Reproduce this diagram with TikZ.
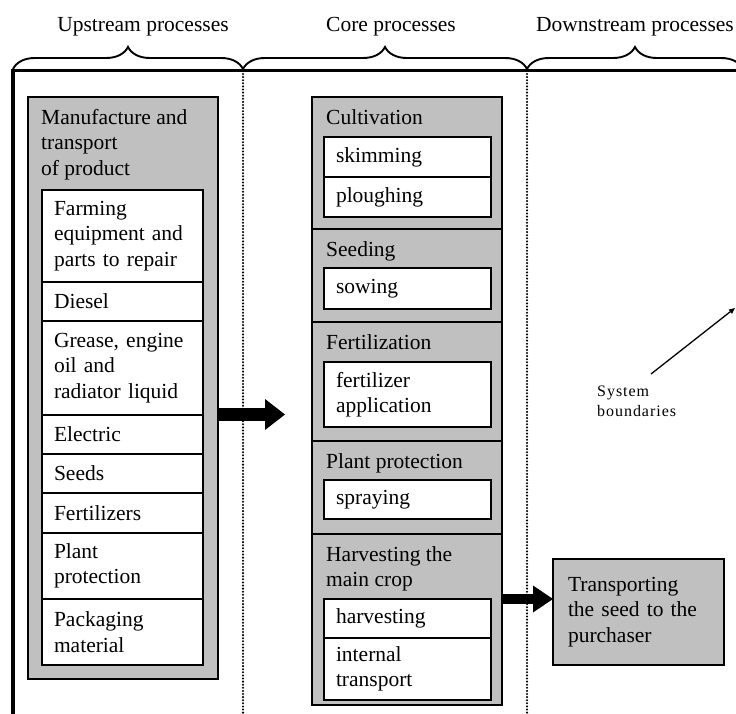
\documentclass[tikz,border=0pt]{standalone}
\usepackage{fontspec}
\setmainfont{Liberation Serif}
\usepackage{tikz}
\usetikzlibrary{positioning, arrows.meta, decorations.pathreplacing}
\definecolor{cBox}{HTML}{C0C0C0}
\newcommand{\boxfont}{\fontsize{21.5pt}{25.5pt}\selectfont}
\newcommand{\notefont}{\fontsize{16pt}{20pt}\selectfont\addfontfeatures{LetterSpace=6}}

\begin{document}
\begin{tikzpicture}[x=1pt, y=-1pt, font=\boxfont,
    frame/.style={line width=3.5pt},
    boundary/.style={line width=2.3pt, line cap=round, dash pattern=on 0pt off 3.1pt},
    brace/.style={decorate, decoration={brace, amplitude=22pt}, line width=1.9pt},
    grp/.style={draw, fill=cBox, line width=1.7pt, anchor=north west, inner sep=0pt, outer sep=0pt, minimum width=190pt},
    grplbl/.style={anchor=north west, inner sep=0pt, align=left},
    item/.style={draw, fill=white, line width=1.7pt, anchor=north west, align=left, inner xsep=12pt, inner ysep=2pt, outer sep=0pt},
    lefti/.style={item, text width=137pt},
    corei/.style={item, text width=143pt},
    bigarrow/.style 2 args={line width=#1, -{Triangle[length=20pt, width=#2, line width=0pt]}},
    pointer/.style={line width=1.3pt, -{Triangle[length=6pt, width=5pt]}}]
  \useasboundingbox (0,0) rectangle (736,714);
  \clip (0,0) rectangle (736,714);

  \draw[frame] (13,730) -- (13,70.5) -- (760,70.5);
  \draw[boundary] (243,74) -- (243,714);
  \draw[boundary] (527,74) -- (527,714);
  \draw[brace] (13,69) -- (243,69);
  \draw[brace] (243,69) -- (527,69);
  \draw[brace] (527,69) -- (743,69);

  \node[anchor=base] (upT) at (143,32) {Upstream processes};
  \node[anchor=base] (coreT) at (391,32) {Core processes};
  \node[anchor=base] (downT) at (635,32) {Downstream processes};

  % upstream
  \node[grp, minimum height=582pt] (upbox) at (28,97) {};
  \node[grplbl, below right=12pt and 13pt of upbox.north west] (upL) {Manufacture~and\\transport\\of product};
  \node[lefti, minimum height=92pt, below right=93pt and 14pt of upbox.north west] (farm) {Farming\\equipment~and\\parts~to~repair};
  \node[lefti, minimum height=39pt, below=0pt of farm] (diesel) {Diesel};
  \node[lefti, minimum height=94pt, below=0pt of diesel] (grease) {Grease,~engine\\oil and\\radiator~liquid};
  \node[lefti, minimum height=39pt, below=0pt of grease] (elec) {Electric};
  \node[lefti, minimum height=39pt, below=0pt of elec] (seeds) {Seeds};
  \node[lefti, minimum height=40pt, below=0pt of seeds] (fertz) {Fertilizers};
  \node[lefti, minimum height=66pt, below=0pt of fertz] (plprot) {Plant\\protection};
  \node[lefti, minimum height=66pt, below=0pt of plprot] (pack) {Packaging\\material};

  % core
  \node[grp, minimum height=132pt] (cult) at (312,97) {};
  \node[grp, minimum height=93pt, below=0pt of cult] (seed) {};
  \node[grp, minimum height=119pt, below=0pt of seed] (fert) {};
  \node[grp, minimum height=93pt, below=0pt of fert] (prot) {};
  \node[grp, minimum height=171pt, below=0pt of prot] (harv) {};
  \node[grplbl, below right=12pt and 14pt of cult.north west] (cultL) {Cultivation};
  \node[grplbl, below right=12pt and 14pt of seed.north west] (seedL) {Seeding};
  \node[grplbl, below right=12pt and 14pt of fert.north west] (fertL) {Fertilization};
  \node[grplbl, below right=12pt and 14pt of prot.north west] (protL) {Plant~protection};
  \node[grplbl, below right=12pt and 14pt of harv.north west] (harvL) {Harvesting~the\\main crop};
  \node[corei, minimum height=40pt, below right=40pt and 12pt of cult.north west] (skim) {skimming};
  \node[corei, minimum height=40pt, below=0pt of skim] (plough) {ploughing};
  \node[corei, minimum height=41pt, below right=39pt and 12pt of seed.north west] (sow) {sowing};
  \node[corei, minimum height=65pt, below right=40pt and 12pt of fert.north west] (fertapp) {fertilizer\\application};
  \node[corei, minimum height=39pt, below right=39pt and 12pt of prot.north west] (spray) {spraying};
  \node[corei, minimum height=39pt, below right=65pt and 12pt of harv.north west] (harvest) {harvesting};
  \node[corei, minimum height=62pt, below=0pt of harvest] (inttr) {internal\\transport};

  % downstream
  \node[grp, minimum width=171pt, minimum height=106pt, text width=141pt, inner xsep=15pt, align=left] (trans) at (553,559) {Transporting\\the~seed~to~the\\purchaser};
  \node[anchor=north west, inner sep=0pt, align=left, font=\notefont] (sysb) at (597,386) {System\\boundaries};

  \coordinate (corein) at (285,414.5);
  \coordinate (a2) at (0,599);
  \coordinate (bnd) at (735,308);
  \draw[bigarrow={13pt}{31pt}] (upbox.east |- corein) -- (corein);
  \draw[bigarrow={10pt}{27pt}] (harv.east |- a2) -- (trans.west |- a2);
  \draw[pointer] ([xshift=54pt, yshift=12pt]sysb.north west) -- (bnd);
\end{tikzpicture}
\end{document}
